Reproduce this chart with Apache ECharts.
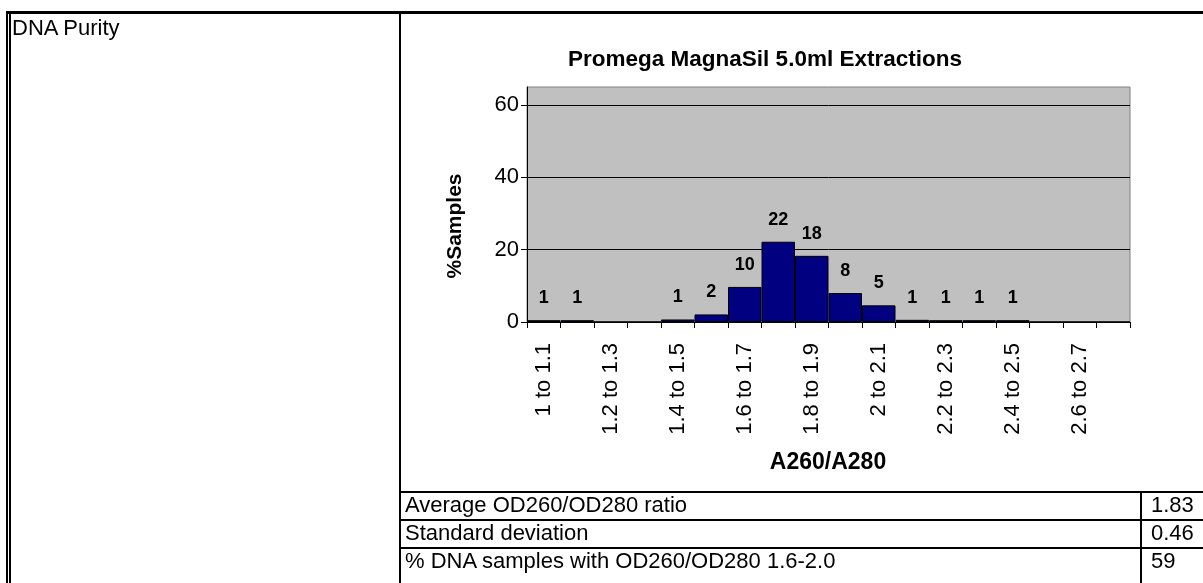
<!DOCTYPE html>
<html>
<head>
<meta charset="utf-8">
<script src="https://cdn.jsdelivr.net/npm/echarts@6/dist/echarts.min.js"></script>
<style>
  html, body { margin:0; padding:0; background:#fff; }
  #wrap { position:relative; width:1203px; height:583px; overflow:hidden; font-family:'Liberation Sans', Arial, sans-serif; }
  #chart { position:absolute; left:0; top:0; width:1203px; height:583px; }
  .ln { position:absolute; background:#000; }
  .tx { position:absolute; font-size:22px; color:#000; white-space:nowrap; line-height:24px; }
</style>
</head>
<body>
<div id="wrap">
  <div id="chart"></div>
</div>
<script>
// ---- data ----
const chartTitle = 'Promega MagnaSil 5.0ml Extractions';
const categories = ['1 to 1.1','1.1 to 1.2','1.2 to 1.3','1.3 to 1.4','1.4 to 1.5','1.5 to 1.6',
  '1.6 to 1.7','1.7 to 1.8','1.8 to 1.9','1.9 to 2','2 to 2.1','2.1 to 2.2','2.2 to 2.3',
  '2.3 to 2.4','2.4 to 2.5','2.5 to 2.6','2.6 to 2.7','2.7 to 2.8'];
const percentSamples = [0.5,0.5,0,0,0.7,2.1,9.7,22.2,18.3,8.0,4.6,0.6,0.5,0.5,0.5,0,0,0];
const yTicks = [0,20,40,60];
const xAxisName = 'A260/A280';
const yAxisName = '%Samples';
const leftCellText = 'DNA Purity';
const tableLabels = ['Average OD260/OD280 ratio','Standard deviation','% DNA samples with OD260/OD280 1.6-2.0'];
const tableValues = ['1.83','0.46','59'];

// ---- frame / table (HTML) ----
const wrap = document.getElementById('wrap');
function line(x,y,w,h){ const d=document.createElement('div'); d.className='ln';
  d.style.left=x+'px'; d.style.top=y+'px'; d.style.width=w+'px'; d.style.height=h+'px'; wrap.appendChild(d); }
function text(s,x,cy){ const d=document.createElement('div'); d.className='tx'; d.textContent=s;
  d.style.left=x+'px'; d.style.top=(cy-12)+'px'; wrap.appendChild(d); }
line(6,11,1197,3);          // top border
line(6,11,1.5,572);         // outer left
line(9,14,2,569);           // inner left
line(399,14,2,569);         // cell divider
const rowLines = [491,519,547];
rowLines.forEach(y=>line(399,y,804,2));
line(1140,491,2,92);        // value column divider
text(leftCellText,12,28);
const rowCenters = [505,533,561];
tableLabels.forEach((s,i)=>text(s,405,rowCenters[i]));
tableValues.forEach((s,i)=>text(s,1151,rowCenters[i]));

// ---- chart ----
const chart = echarts.init(document.getElementById('chart'), null, {renderer:'canvas'});
const FONT = "'Liberation Sans', Arial, sans-serif";
chart.setOption({
  animation:false,
  grid:{ left:527, top:87, width:603, height:235, show:true, backgroundColor:'#C0C0C0', borderColor:'#808080', borderWidth:1 },
  xAxis:{
    type:'category', data:categories, boundaryGap:true,
    axisLine:{ lineStyle:{ color:'#000', width:1 } },
    axisTick:{ show:true, interval:0, length:6, inside:false, lineStyle:{ color:'#000' } },
    axisLabel:{ interval:1, rotate:90, margin:21, color:'#000', fontSize:22, fontFamily:FONT },
    splitLine:{ show:false }
  },
  yAxis:{
    type:'value', min:0, max:65,
    axisLine:{ show:true, lineStyle:{ color:'#000', width:1 } },
    axisTick:{ show:true, length:6, customValues:yTicks, lineStyle:{ color:'#000' } },
    axisLabel:{ customValues:yTicks, margin:8, color:'#000', fontSize:22, fontFamily:FONT },
    splitLine:{ show:true, lineStyle:{ color:'#000', width:1 } }
  },
  graphic:[
    { type:'text', x:765, y:60, style:{ text:chartTitle, font:"bold 22.5px "+FONT, fill:'#000', textAlign:'center', textVerticalAlign:'middle' } },
    { type:'text', x:455, y:226, rotation:Math.PI/2, style:{ text:yAxisName, font:"bold 21px "+FONT, fill:'#000', textAlign:'center', textVerticalAlign:'middle' } },
    { type:'text', x:828, y:463, style:{ text:xAxisName, font:"bold 23px "+FONT, fill:'#000', textAlign:'center', textVerticalAlign:'middle' } }
  ],
  series:[{
    type:'bar', data:percentSamples, barCategoryGap:0,
    itemStyle:{ color:'#000080', borderColor:'#000', borderWidth:1 },
    label:{ show:true, position:'top', distance:13, color:'#000', fontWeight:'bold', fontSize:18, fontFamily:FONT,
      formatter:p=> p.value>0 ? String(Math.round(p.value)) : '' }
  }]
});
</script>
</body>
</html>
